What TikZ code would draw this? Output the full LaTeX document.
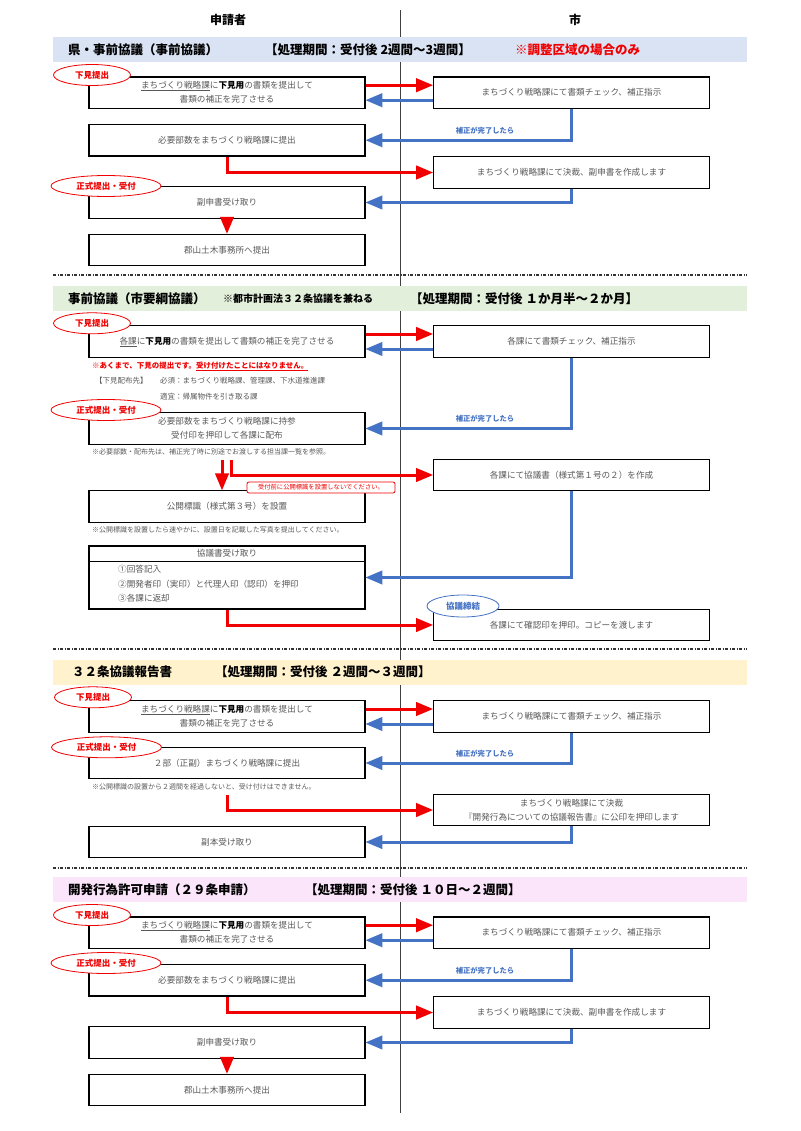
\documentclass[tikz,border=0pt]{standalone}
\usepackage{fontspec}
\setmainfont{Noto Sans CJK JP}
\usepackage{tikz}
\usetikzlibrary{arrows,shapes.geometric}
\definecolor{kred}{HTML}{F00000}
\definecolor{kblue}{HTML}{4472C4}
\definecolor{ktext}{HTML}{595959}
\definecolor{bandA}{HTML}{DAE3F3}
\definecolor{bandB}{HTML}{E2EFDA}
\definecolor{bandC}{HTML}{FFF2CC}
\definecolor{bandD}{HTML}{FBE5FB}
\newcommand{\kul}[1]{\sbox0{#1}\rlap{\rule[-1.8pt]{\wd0}{0.5pt}}\usebox0}

\begin{document}
\begin{tikzpicture}[x=1pt,y=-1pt,>=triangle 45,
  box/.style={shape=rectangle,draw=black,line width=1.2pt,fill=white,minimum width=276pt,minimum height=31.5pt,inner sep=0pt,align=center,text=ktext,font=\fontsize{8.6}{14}\selectfont},
  band/.style={shape=rectangle,minimum width=694pt,minimum height=25pt,inner sep=0pt},
  ttl/.style={anchor=west,inner sep=0pt,text=black,font=\fontsize{12.5}{14}\selectfont\bfseries},
  tagred/.style={ellipse,draw=kred,line width=0.8pt,fill=white,text=kred,minimum height=21pt,inner sep=0pt,font=\fontsize{8.5}{10}\selectfont\bfseries},
  tagblue/.style={ellipse,draw=kblue,line width=0.8pt,fill=white,text=kblue,minimum height=22pt,inner sep=0pt,font=\fontsize{8.5}{10}\selectfont\bfseries},
  remark/.style={anchor=west,inner sep=0pt,text=ktext,font=\fontsize{7}{9}\selectfont},
  warnbox/.style={shape=rectangle,rounded corners=2pt,draw=kred,line width=0.8pt,fill=white,text=kred,minimum width=148pt,minimum height=11pt,inner sep=1pt,font=\fontsize{6.3}{8}\selectfont},
  fwd/.style={->,draw=kred,line width=3pt},
  ret/.style={->,draw=kblue,line width=3pt},
  cue/.style={inner sep=0pt,text=kblue,font=\fontsize{7.3}{9}\selectfont\bfseries},
  sepline/.style={line width=1.2pt,black!80,dash pattern=on 3pt off 1.5pt on 1pt off 1.5pt}]
\useasboundingbox (0,0) rectangle (800,1131);

% centre line and headings
\coordinate (top) at (400,10);
\coordinate (bot) at (400,1113);
\draw[black!75,line width=0.7pt] (top) -- (bot);
\node[font=\fontsize{12}{14}\selectfont\bfseries] (H1) at (228,20) {申請者};
\node[font=\fontsize{12}{14}\selectfont\bfseries] (H2) at (575,20) {市};

% section 1
\node[band,fill=bandA] (S1) at (400,49.5) {};
\node[ttl] (S1a) at (68,49.5) {県・事前協議（事前協議）};
\node[ttl] (S1b) at (265,49.5) {【処理期間：受付後 2週間～3週間】};
\node[ttl,text=kred] (S1c) at (515,49.5) {※調整区域の場合のみ};

\node[box] (L11) at (227,92.7) {\kul{まちづくり戦略課}に\textbf{\color{black}下見用}の書類を提出して\\書類の補正を完了させる};
\node[box] (R11) at (571.5,92.7) {まちづくり戦略課にて書類チェック、補正指示};
\node[tagred,minimum width=77pt] (T11) at (92,75) {下見提出};
\path ([yshift=7.5pt]L11.east) edge[fwd] ([yshift=7.5pt]R11.west)
      ([yshift=-7.5pt]R11.west) edge[ret] ([yshift=-7.5pt]L11.east);

\node[box] (L12) at (227,140.2) {必要部数をまちづくり戦略課に提出};
\draw[ret] (R11.south) |- (L12.east);
\node[cue] (C11) at (485,131) {補正が完了したら};
\node[box] (R12) at (571.5,172.5) {まちづくり戦略課にて決裁、副申書を作成します};
\draw[fwd] (L12.south) |- (R12.west);
\node[box] (L13) at (227,202.5) {副申書受け取り};
\draw[ret] (R12.south) |- (L13.east);
\node[tagred,minimum width=110pt] (T12) at (106,186) {正式提出・受付};
\node[box] (L14) at (227,250) {郡山土木事務所へ提出};
\path (L13) edge[fwd] (L14);

\coordinate (D1a) at (53,275);
\coordinate (D1b) at (747,275);
\draw[sepline] (D1a) -- (D1b);

% section 2
\node[band,fill=bandB] (S2) at (400,298.5) {};
\node[ttl] (S2a) at (68,298.5) {事前協議（市要綱協議）};
\node[ttl,font=\fontsize{10}{12}\selectfont\bfseries] (S2b) at (223,298.5) {※都市計画法３２条協議を兼ねる};
\node[ttl] (S2c) at (410,298.5) {【処理期間：受付後 １か月半～２か月】};

\node[box] (L21) at (227,341.5) {\kul{各課}に\textbf{\color{black}下見用}の書類を提出して書類の補正を完了させる};
\node[box] (R21) at (571.5,341.5) {各課にて書類チェック、補正指示};
\node[tagred,minimum width=77pt] (T21) at (92,323.3) {下見提出};
\path ([yshift=7.5pt]L21.east) edge[fwd] ([yshift=7.5pt]R21.west)
      ([yshift=-7.5pt]R21.west) edge[ret] ([yshift=-7.5pt]L21.east);

\node[remark,text=kred,font=\fontsize{7.5}{9}\selectfont\bfseries] (N21) at (92,366) {※あくまで、下見の提出です。\kul{受け付けたことにはなりません。}};
\node[remark,font=\fontsize{7.5}{9}\selectfont] (N22) at (95,381) {【下見配布先】};
\node[remark,font=\fontsize{7.5}{9}\selectfont] (N23) at (160,381) {必須：まちづくり戦略課、管理課、下水道推進課};
\node[remark,font=\fontsize{7.5}{9}\selectfont] (N24) at (160,396.5) {適宜：帰属物件を引き取る課};

\node[box] (L22) at (227,428.5) {必要部数をまちづくり戦略課に持参\\受付印を押印して各課に配布};
\draw[ret] (R21.south) |- (L22.east);
\node[cue] (C21) at (485,419) {補正が完了したら};
\node[tagred,minimum width=110pt] (T22) at (106,410) {正式提出・受付};
\node[remark] (N25) at (92,452.3) {※必要部数・配布先は、補正完了時に別途でお渡しする担当課一覧を参照。};

\coordinate (P21) at (222,460);
\coordinate (P22) at (231,460);
\node[box] (R22) at (571.5,475) {各課にて協議書（様式第１号の２）を作成};
\node[box] (L23) at (227,506.5) {公開標識（様式第３号）を設置};
\draw[fwd] (P21) -- (P21 |- L23.north);
\draw[fwd] (P22) |- (R22.west);
\node[warnbox] (W21) at (321,487.5) {受付前に公開標識を設置しないでください。};
\node[remark] (N26) at (92,530) {※公開標識を設置したら速やかに、設置日を記載した写真を提出してください。};

\node[box,minimum height=63pt] (L24) at (227,577.5) {};
\node[text=ktext,font=\fontsize{8.6}{10}\selectfont,minimum height=16pt,inner sep=0pt,anchor=north] (L24t) at (L24.north) {協議書受け取り};
\draw[line width=1.2pt] (L24.west |- L24t.south) -- (L24.east |- L24t.south);
\node[text=ktext,font=\fontsize{8.6}{14.5}\selectfont,align=left,anchor=north west,inner sep=0pt] (L24l) at (118,565) {①回答記入\\②開発者印（実印）と代理人印（認印）を押印\\③各課に返却};
\draw[ret] (R22.south) |- (L24.east);
\node[box] (R23) at (571.5,625) {各課にて確認印を押印。コピーを渡します};
\draw[fwd] (L24.south) |- (R23.west);
\node[tagblue,minimum width=72pt] (T23) at (463,606) {協議締結};

\coordinate (D2a) at (53,649);
\coordinate (D2b) at (747,649);
\draw[sepline] (D2a) -- (D2b);

% section 3
\node[band,fill=bandC] (S3) at (400,672.2) {};
\node[ttl] (S3a) at (72,672.2) {３２条協議報告書};
\node[ttl] (S3b) at (215,672.2) {【処理期間：受付後 ２週間～３週間】};

\node[box] (L31) at (227,716.5) {\kul{まちづくり戦略課}に\textbf{\color{black}下見用}の書類を提出して\\書類の補正を完了させる};
\node[box] (R31) at (571.5,716.5) {まちづくり戦略課にて書類チェック、補正指示};
\node[tagred,minimum width=77pt] (T31) at (93,697.3) {下見提出};
\path ([yshift=7.5pt]L31.east) edge[fwd] ([yshift=7.5pt]R31.west)
      ([yshift=-7.5pt]R31.west) edge[ret] ([yshift=-7.5pt]L31.east);

\node[box] (L32) at (227,763) {２部（正副）まちづくり戦略課に提出};
\draw[ret] (R31.south) |- (L32.east);
\node[cue] (C31) at (485,754) {補正が完了したら};
\node[tagred,minimum width=110pt] (T32) at (106.5,747.3) {正式提出・受付};
\node[remark] (N31) at (92,787) {※公開標識の設置から２週間を経過しないと、受け付けはできません。};

\coordinate (P31) at (227,795);
\node[box] (R32) at (571.5,810) {まちづくり戦略課にて決裁\\『開発行為についての協議報告書』に公印を押印します};
\draw[fwd] (P31) |- (R32.west);
\node[box] (L33) at (227,842) {副本受け取り};
\draw[ret] (R32.south) |- (L33.east);

\coordinate (D3a) at (53,868);
\coordinate (D3b) at (747,868);
\draw[sepline] (D3a) -- (D3b);

% section 4
\node[band,fill=bandD] (S4) at (400,889.5) {};
\node[ttl] (S4a) at (68,889.5) {開発行為許可申請（２９条申請）};
\node[ttl] (S4b) at (305,889.5) {【処理期間：受付後 １０日～２週間】};

\node[box] (L41) at (227,932.7) {\kul{まちづくり戦略課}に\textbf{\color{black}下見用}の書類を提出して\\書類の補正を完了させる};
\node[box] (R41) at (571.5,932.7) {まちづくり戦略課にて書類チェック、補正指示};
\node[tagred,minimum width=77pt] (T41) at (92,915) {下見提出};
\path ([yshift=7.5pt]L41.east) edge[fwd] ([yshift=7.5pt]R41.west)
      ([yshift=-7.5pt]R41.west) edge[ret] ([yshift=-7.5pt]L41.east);

\node[box] (L42) at (227,980.2) {必要部数をまちづくり戦略課に提出};
\draw[ret] (R41.south) |- (L42.east);
\node[cue] (C41) at (485,971) {補正が完了したら};
\node[tagred,minimum width=110pt] (T42) at (106,963) {正式提出・受付};
\node[box] (R42) at (571.5,1012.5) {まちづくり戦略課にて決裁、副申書を作成します};
\draw[fwd] (L42.south) |- (R42.west);
\node[box] (L43) at (227,1042.5) {副申書受け取り};
\draw[ret] (R42.south) |- (L43.east);
\node[box] (L44) at (227,1090) {郡山土木事務所へ提出};
\path (L43) edge[fwd] (L44);
\end{tikzpicture}
\end{document}
